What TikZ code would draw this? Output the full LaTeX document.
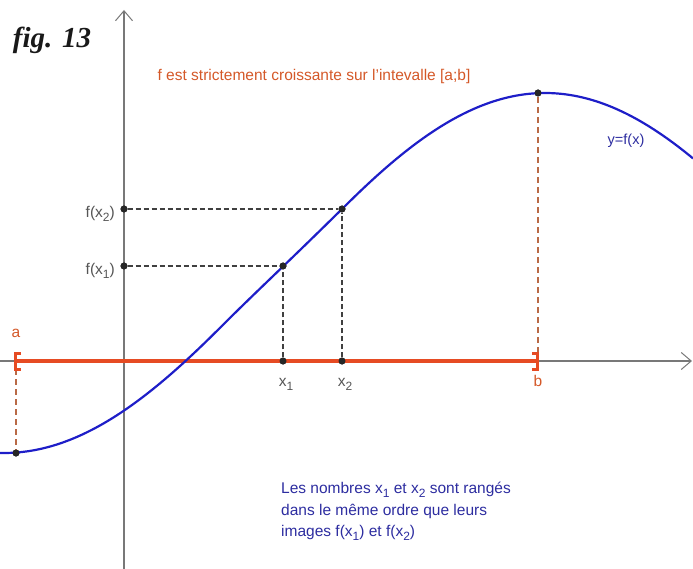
\documentclass[tikz,border=0pt]{standalone}
\usepackage{fontspec}
\setmainfont{Liberation Sans}
\newfontfamily\figfont{Liberation Serif}
\usetikzlibrary{arrows.meta}
\definecolor{axgray}{RGB}{120,120,120}
\definecolor{curveblue}{RGB}{30,30,200}
\definecolor{segred}{RGB}{230,75,35}
\definecolor{txtorange}{RGB}{212,88,40}
\definecolor{dashbrown}{RGB}{185,105,70}
\definecolor{txtblue}{RGB}{45,45,160}
\definecolor{lblgray}{RGB}{85,85,85}
\newcommand\sbs[1]{\raisebox{-0.5ex}{\fontsize{12}{12}\selectfont #1}}
\tikzset{
  axisline/.style={draw=axgray, line width=1.8pt, -{Straight Barb[length=10pt,width=17pt,line width=1pt]}},
  curve/.style={draw=curveblue, line width=2.2pt},
  seg/.style={draw=segred, line width=4.2pt},
  brk/.style={draw=segred, line width=3pt},
  guide/.style={draw=black!75, dash pattern=on 5pt off 3pt, line width=1.1pt},
  guideb/.style={draw=dashbrown, dash pattern=on 6pt off 4pt, line width=1.3pt},
  pt/.style={circle, fill=black!85, inner sep=0pt, minimum size=7pt},
  lbl/.style={text=lblgray, font=\fontsize{15.5}{18}\selectfont, inner sep=1pt},
  redlbl/.style={text=txtorange, font=\fontsize{15.5}{18}\selectfont, inner sep=1pt}
}
\begin{document}
\begin{tikzpicture}[x=1pt,y=-1pt,
  declare function={
    fa(\t)=273+180*cos((\t-4)*0.334572);
    fb(\t)=273+180*cos((\t-17)*0.340909);
    ws(\t)=min(max((\t-220)/130,0),1);
    wt(\t)=ws(\t)*ws(\t)*(3-2*ws(\t));
    fc(\t)=(1-wt(\t))*fa(\t)+wt(\t)*fb(\t);}]
\useasboundingbox (0,0) rectangle (693,569);
% axes
\coordinate (xl) at (0,361);
\coordinate (xr) at (692,361);
\coordinate (yb) at (124,569);
\coordinate (yt) at (124,10);
\draw[axisline] (xl) -- (xr);
\draw[axisline] (yb) -- (yt);
% points
\coordinate (A) at (16,361);
\coordinate (B) at (538,361);
\coordinate (At) at (16,369);
\coordinate (Bt) at (538,353);
\node[pt] (Pa) at (16,453) {};
\node[pt] (Pb) at (538,93) {};
\node[pt] (P1) at (283,266) {};
\node[pt] (P2) at (342,209) {};
\node[pt] (X1) at (283,361) {};
\node[pt] (X2) at (342,361) {};
\node[pt] (Y1) at (124,266) {};
\node[pt] (Y2) at (124,209) {};
% guides
\draw[guide] (Y1) -- (P1);
\draw[guide] (Y2) -- (P2);
\draw[guide] (X1) -- (P1);
\draw[guide] (X2) -- (P2);
\draw[guideb] (At) -- (Pa);
\draw[guideb] (Bt) -- (Pb);
% red segment
\draw[seg] (A) -- (B);
\draw[brk] (21,353) -- (15.5,353) -- (15.5,369) -- (21,369);
\draw[brk] (532,353) -- (537.5,353) -- (537.5,369) -- (532,369);
% curve
\draw[curve] plot[domain=0:693, samples=240] (\x, {fc(\x)});
\node[pt] at (Pa) {};
\node[pt] at (Pb) {};
\node[pt] at (P1) {};
\node[pt] at (P2) {};
\node[pt] at (X1) {};
\node[pt] at (X2) {};
\node[pt] at (Y1) {};
\node[pt] at (Y2) {};
% labels
\node[redlbl] (la) at (16,333) {a};
\node[redlbl] (lb) at (538,381) {b};
\node[lbl] (lx1) at (286,384) {x\sbs{1}};
\node[lbl] (lx2) at (345,384) {x\sbs{2}};
\node[lbl, anchor=east] (ly1) at (116,271) {f(x\sbs{1})};
\node[lbl, anchor=east] (ly2) at (116,214) {f(x\sbs{2})};
\node[text=txtblue, font=\fontsize{14.5}{17}\selectfont] (lf) at (626,141) {y=f(x)};
\node[redlbl] (title) at (314,76) {f est strictement croissante sur l'intevalle [a;b]};
\node[font=\figfont\bfseries\itshape\fontsize{29}{32}\selectfont, text=black!90] (fig) at (52,40) {fig. 13};
\node[text=txtblue, font=\fontsize{15.5}{21.5}\selectfont, align=left, anchor=north west, inner sep=0pt] (note) at (281,482) {Les nombres x\sbs{1} et x\sbs{2} sont rangés\\dans le même ordre que leurs\\images f(x\sbs{1}) et f(x\sbs{2})};
\end{tikzpicture}
\end{document}
